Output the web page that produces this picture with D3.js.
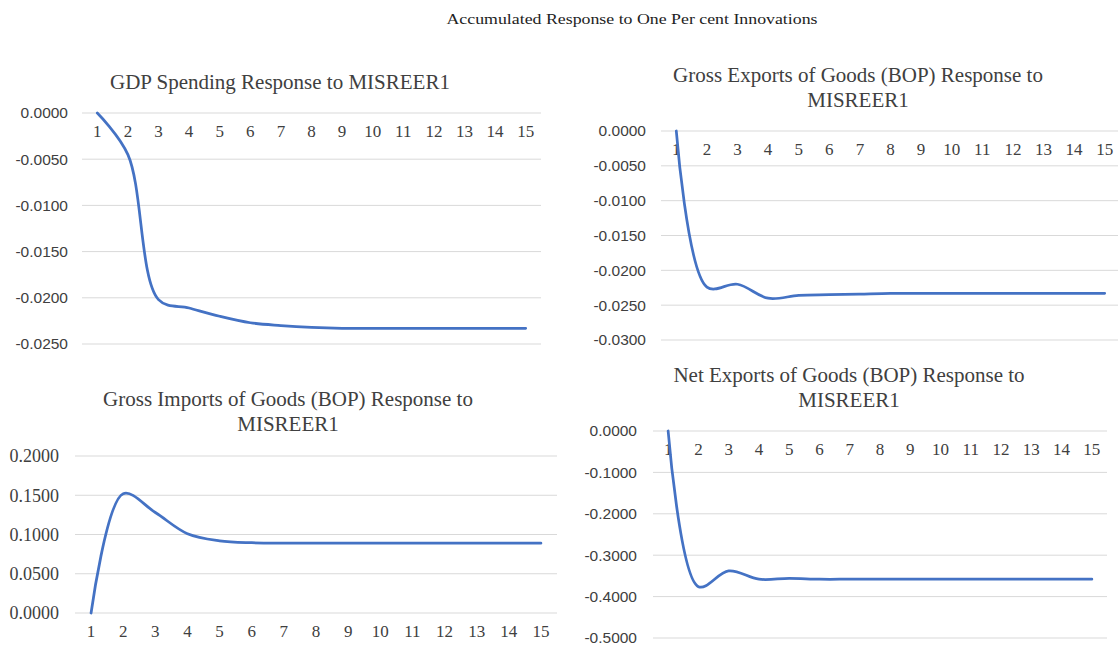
<!DOCTYPE html>
<html>
<head>
<meta charset="utf-8">
<script src="https://cdn.jsdelivr.net/npm/d3@7"></script>
<style>
  body { margin: 0; background: #fff; }
  svg { display: block; font-family: "Liberation Serif", "Times New Roman", serif; }
</style>
</head>
<body>
<svg id="chart" width="1118" height="645"></svg>
<script>
// periods on the x axis
var periods = [1, 2, 3, 4, 5, 6, 7, 8, 9, 10, 11, 12, 13, 14, 15];

// accumulated responses
var gdpResp = [0, -0.0045, -0.0202, -0.0211, -0.0220, -0.0227, -0.0230, -0.0232, -0.0233, -0.0233, -0.0233, -0.0233, -0.0233, -0.0233, -0.0233];
var exportsResp = [0, -0.0224, -0.0220, -0.0240, -0.0236, -0.0235, -0.0234, -0.0233, -0.0233, -0.0233, -0.0233, -0.0233, -0.0233, -0.0233, -0.0233];
var importsResp = [0, 0.152, 0.128, 0.101, 0.092, 0.0895, 0.089, 0.089, 0.089, 0.089, 0.089, 0.089, 0.089, 0.089, 0.089];
var netResp = [0, -0.376, -0.338, -0.358, -0.356, -0.358, -0.358, -0.358, -0.358, -0.358, -0.358, -0.358, -0.358, -0.358, -0.358];

// y tick values
var gdpTicks = [0, -0.005, -0.010, -0.015, -0.020, -0.025];
var exportsTicks = [0, -0.005, -0.010, -0.015, -0.020, -0.025, -0.030];
var importsTicks = [0, 0.05, 0.10, 0.15, 0.20];
var netTicks = [0, -0.1, -0.2, -0.3, -0.4, -0.5];

var svg = d3.select("#chart");
var lineColor = "#4472c4";
var fmt = function(d) { return d.toFixed(4); };
var SANS = "Liberation Sans, Arial, sans-serif";
var SERIF = "Liberation Serif, Times New Roman, serif";

svg.append("text")
  .attr("x", 632).attr("y", 24)
  .attr("text-anchor", "middle")
  .attr("font-size", 15)
  .attr("textLength", 371)
  .attr("lengthAdjust", "spacingAndGlyphs")
  .attr("fill", "#222")
  .text("Accumulated Response to One Per cent Innovations");

function drawPanel(p) {
  var g = svg.append("g");
  var x = d3.scaleBand().domain(periods).range([p.x0, p.x1]);
  var y = d3.scaleLinear().domain([p.ticks[0], p.ticks[p.ticks.length - 1]])
    .range([p.yA, p.yB]);
  var half = x.bandwidth() / 2;

  // title
  p.title.forEach(function(t, i) {
    g.append("text")
      .attr("x", p.tx).attr("y", p.ty + i * 25)
      .attr("text-anchor", "middle")
      .attr("font-family", SERIF)
      .attr("font-size", 21)
      .attr("fill", "#404040")
      .text(t);
  });

  // gridlines
  g.selectAll("line.grid").data(p.ticks).enter().append("line")
    .attr("class", "grid")
    .attr("x1", p.x0).attr("x2", p.gx1 || p.x1)
    .attr("y1", function(d) { return y(d); })
    .attr("y2", function(d) { return y(d); })
    .attr("stroke", "#d9d9d9").attr("stroke-width", 1);

  // y axis labels
  var ya = g.append("g").attr("transform", "translate(" + p.x0 + ",0)")
    .call(d3.axisLeft(y).tickValues(p.ticks).tickFormat(fmt).tickSize(0).tickPadding(p.ypad));
  ya.select(".domain").remove();
  ya.selectAll("text")
    .attr("font-size", p.ySerif ? 18 : 15.5)
    .attr("font-family", p.ySerif ? SERIF : SANS)
    .attr("fill", "#404040");

  // category labels, next to the zero line
  var xa = g.append("g").attr("transform", "translate(0," + y(0) + ")")
    .call(d3.axisBottom(x).tickSize(0).tickPadding(12));
  xa.select(".domain").remove();
  xa.selectAll("text").attr("font-size", 17).attr("fill", "#404040")
    .attr("font-family", SERIF);

  var line = d3.line()
    .x(function(d, i) { return x(periods[i]) + half; })
    .y(function(d) { return y(d); })
    .curve(d3.curveCatmullRom.alpha(0.5));

  g.append("path").datum(p.values)
    .attr("d", line)
    .attr("fill", "none")
    .attr("stroke", lineColor)
    .attr("stroke-width", 2.75)
    .attr("stroke-linecap", "round");
}

drawPanel({ title: ["GDP Spending Response to MISREER1"], tx: 280, ty: 89,
  x0: 82, x1: 541, yA: 113, yB: 344, ypad: 14, ticks: gdpTicks, values: gdpResp });

drawPanel({ title: ["Gross Exports of Goods (BOP) Response to", "MISREER1"], tx: 858, ty: 82,
  x0: 661, x1: 1120, gx1: 1118, yA: 131, yB: 340, ypad: 15, ticks: exportsTicks, values: exportsResp });

drawPanel({ title: ["Gross Imports of Goods (BOP) Response to", "MISREER1"], tx: 288, ty: 406,
  x0: 75, x1: 557, yA: 613, yB: 456, ypad: 16, ySerif: true, ticks: importsTicks, values: importsResp });

drawPanel({ title: ["Net Exports of Goods (BOP) Response to", "MISREER1"], tx: 849, ty: 382,
  x0: 653, x1: 1107, yA: 431, yB: 638, ypad: 16, ticks: netTicks, values: netResp });
</script>
</body>
</html>
